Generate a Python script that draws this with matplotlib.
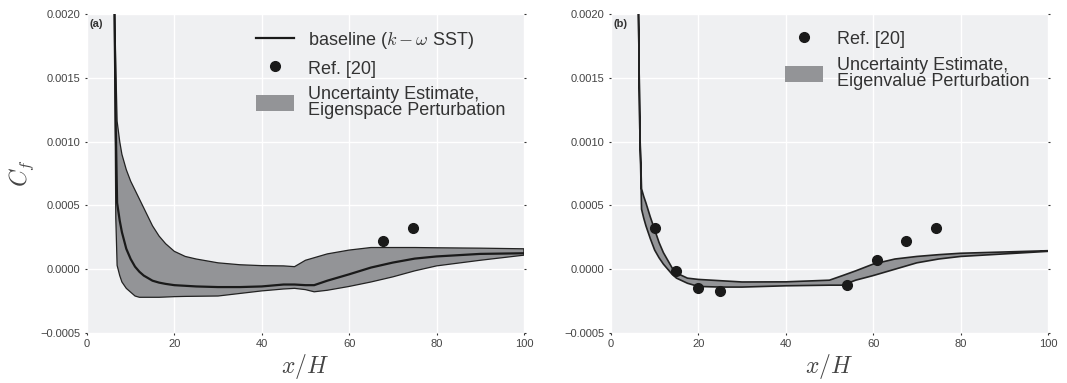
import numpy as np
import matplotlib
matplotlib.use("Agg")
import matplotlib.pyplot as plt
from matplotlib.patches import Patch

plt.rcParams['font.family'] = ['Liberation Sans', 'DejaVu Sans']
plt.rcParams['mathtext.fontset'] = 'cm'

# panel (a): eigenspace perturbation
xa = [6.0, 6.3, 6.6, 6.9, 7.5, 8, 9, 10, 11, 12, 13, 14, 15, 16.5, 18, 20, 22.5, 25, 30, 35, 40, 45, 47.5, 50, 52, 55, 60, 65, 70, 75, 80, 90, 100]
base_a = [0.0040, 0.0020, 0.0011, 0.00052, 0.00038, 0.00029, 0.00016, 0.00008, 0.00002, -0.00002, -0.00005, -0.00007, -0.00009, -0.000105, -0.000115, -0.000125, -0.00013, -0.000135, -0.00014, -0.00014, -0.000135, -0.00012, -0.00012, -0.000125, -0.000125, -0.00009, -0.00004, 0.000013, 0.000052, 0.000083, 0.0001, 0.00012, 0.000125]
upper_a = [0.0040, 0.0021, 0.0016, 0.00116, 0.00100, 0.00090, 0.00078, 0.00069, 0.00062, 0.00055, 0.00048, 0.00041, 0.00034, 0.00026, 0.0002, 0.00014, 0.0001, 0.00008, 0.00005, 0.000035, 0.000028, 0.000026, 0.00002, 0.00007, 0.00009, 0.00012, 0.00015, 0.00017, 0.00017, 0.00017, 0.000168, 0.000165, 0.00016]
lower_a = [0.0040, 0.0019, 0.0004, 0.00003, -0.00005, -0.0001, -0.00015, -0.00018, -0.00021, -0.00022, -0.00022, -0.00022, -0.00022, -0.00022, -0.000218, -0.000215, -0.000213, -0.000212, -0.00021, -0.00019, -0.00017, -0.000155, -0.00015, -0.00016, -0.000177, -0.000165, -0.000135, -0.0001, -0.00006, -0.000013, 0.000026, 0.00007, 0.00011]
ref_x_a = [67.8, 74.6]
ref_y_a = [0.00022, 0.00032]

# panel (b): eigenvalue perturbation
xb = [6.0, 6.3, 6.6, 7.0, 7.5, 8, 9, 10, 11, 12, 13, 14, 15, 17.5, 20, 25, 30, 40, 50, 53, 56, 60, 65, 70, 75, 80, 90, 100]
upper_b = [0.0040, 0.0020, 0.0011, 0.00063, 0.00057, 0.00052, 0.00041, 0.00031, 0.00021, 0.00013, 0.00007, 0.00001, -0.00003, -0.00007, -0.00008, -0.00009, -0.0001, -0.000099, -0.000086, -0.00005, -0.000013, 0.00004, 0.00008, 0.0001, 0.000114, 0.000125, 0.000135, 0.000145]
lower_b = [0.0040, 0.0020, 0.0011, 0.00047, 0.00040, 0.00034, 0.00024, 0.00015, 0.00009, 0.00004, 0.0, -0.00004, -0.00007, -0.00011, -0.000135, -0.00014, -0.00014, -0.00013, -0.000125, -0.000125, -0.000086, -0.00005, 0.0, 0.00005, 0.00008, 0.0001, 0.00012, 0.00014]
ref_x_b = [10.1, 14.8, 19.9, 24.9, 54.1, 60.9, 67.6, 74.4]
ref_y_b = [0.00032, -0.000013, -0.000146, -0.00017, -0.000125, 0.000073, 0.00022, 0.00032]

xticks = [0, 20, 40, 60, 80, 100]
yticks = [-0.0005, 0.0, 0.0005, 0.0010, 0.0015, 0.0020]

band_c = '#939497'
bg = '#eff0f2'
txt = '#444444'

fig = plt.figure(figsize=(10.67, 3.83), dpi=100)
ax1 = fig.add_axes([0.0815, 0.1305, 0.4095, 0.833])
ax2 = fig.add_axes([0.5726, 0.1305, 0.4095, 0.833])

for ax in (ax1, ax2):
    ax.set_facecolor(bg)
    ax.set_xlim(0, 100)
    ax.set_ylim(-0.0005, 0.0020)
    ax.set_xticks(xticks)
    ax.set_yticks(yticks)
    ax.set_yticklabels(['%.4f' % v if v >= 0 else '\u22120.0005' for v in yticks])
    ax.grid(True, color='white', lw=1.0)
    ax.set_axisbelow(True)
    for s in ax.spines.values():
        s.set_visible(False)
    ax.tick_params(axis='both', length=1.5, width=0.8, color='#333333', labelsize=8,
                   labelcolor=txt, pad=3, right=True)
    ax.set_xlabel('$x/H$', fontsize=17, color=txt, labelpad=2)

ax1.fill_between(xa, lower_a, upper_a, facecolor=band_c, edgecolor='#222222', lw=0.9)
ax1.plot(xa, base_a, color='#1a1a1a', lw=1.6)
ax1.plot(ref_x_a, ref_y_a, 'o', color='#1a1a1a', ms=7)
ax1.set_ylabel('$C_f$', fontsize=17, color=txt, labelpad=3)
hs = [plt.Line2D([], [], color='#1a1a1a', lw=1.6),
      plt.Line2D([], [], ls='', marker='o', color='#1a1a1a', ms=7),
      Patch(facecolor=band_c, edgecolor='none')]
leg = ax1.legend(hs, ['baseline ($k-\\omega$ SST)', 'Ref. [20]', 'Uncertainty Estimate,\nEigenspace Perturbation'],
                 loc='upper right', fontsize=13, frameon=False, labelcolor='#333333',
                 handlelength=2.1, handleheight=1.0, handletextpad=0.8, borderaxespad=0.5,
                 labelspacing=0.45, bbox_to_anchor=(0.995, 1.0))
for t in leg.get_texts():
    t.set_linespacing(0.95)
ax1.text(0.005, 0.985, '(a)', transform=ax1.transAxes, fontsize=8, fontweight='bold',
         color='#333333', va='top', ha='left')

ax2.fill_between(xb, lower_b, upper_b, facecolor=band_c, edgecolor='#222222', lw=1.2)
ax2.plot(ref_x_b, ref_y_b, 'o', color='#1a1a1a', ms=7)
hs = [plt.Line2D([], [], ls='', marker='o', color='#1a1a1a', ms=7),
      Patch(facecolor=band_c, edgecolor='none')]
leg = ax2.legend(hs, ['Ref. [20]', 'Uncertainty Estimate,\nEigenvalue Perturbation'],
                 loc='upper right', fontsize=13, frameon=False, labelcolor='#333333',
                 handlelength=2.1, handleheight=1.0, handletextpad=0.8, borderaxespad=0.5,
                 labelspacing=0.45, bbox_to_anchor=(0.995, 1.0))
for t in leg.get_texts():
    t.set_linespacing(0.95)
ax2.text(0.005, 0.985, '(b)', transform=ax2.transAxes, fontsize=8, fontweight='bold',
         color='#333333', va='top', ha='left')

fig.savefig('out.png', dpi=100)
